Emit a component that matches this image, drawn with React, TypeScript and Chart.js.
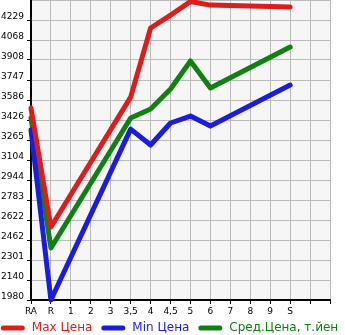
import React, { useEffect, useRef } from "react";
import { Chart, registerables } from "chart.js";

Chart.register(...registerables);

const categories = ["RA", "R", "1", "2", "3", "3,5", "4", "4,5", "5", "6", "7", "8", "9", "S", "", ""];
const maxPrice = [3522, 2566, null, null, null, 3610, 4165, 4269, 4378, 4349, null, null, null, 4333, null, null];
const minPrice = [3345, 1980, null, null, null, 3353, 3225, 3402, 3458, 3378, null, null, null, 3707, null, null];
const avgPrice = [3442, 2398, null, null, null, 3442, 3514, 3675, 3900, 3683, null, null, null, 4012, null, null];
const yTickLabels = ["1980", "2140", "2301", "2462", "2622", "2783", "2944", "3104", "3265", "3426", "3586", "3747", "3908", "4068", "4229"];
const yMin = 1980;
const yMax = 4390;

const seriesNames = ["Max Цена", "Min Цена", "Сред.Цена, т.йен"];
const seriesColors = ["#dd1c1c", "#1c1cdd", "#108010"];

const FONT = "'DejaVu Sans', sans-serif";

const bgPlugin = {
  id: "bgPlugin",
  beforeDraw(chart: any) {
    const { ctx, chartArea } = chart;
    ctx.save();
    ctx.fillStyle = "#f6f6f6";
    ctx.fillRect(chartArea.left, chartArea.top, chartArea.right - chartArea.left, chartArea.bottom - chartArea.top);
    ctx.restore();
  },
};

const legendPlugin = {
  id: "customLegend",
  afterDraw(chart: any) {
    const { ctx, width } = chart;
    ctx.save();
    ctx.font = "12px " + FONT;
    const lineLen = 24;
    const gapText = 7;
    const gapItem = 9;
    const widths = seriesNames.map((n) => ctx.measureText(n).width);
    let total = 0;
    widths.forEach((w, i) => {
      total += lineLen + gapText + w + (i < widths.length - 1 ? gapItem : 0);
    });
    let x = (width - total) / 2 - 3;
    const y = 328;
    seriesNames.forEach((name, i) => {
      ctx.strokeStyle = seriesColors[i];
      ctx.lineWidth = 5;
      ctx.lineCap = "round";
      ctx.beginPath();
      ctx.moveTo(x + 2.5, y);
      ctx.lineTo(x + lineLen - 2.5, y);
      ctx.stroke();
      ctx.fillStyle = seriesColors[i];
      ctx.textBaseline = "middle";
      ctx.textAlign = "left";
      ctx.fillText(name, x + lineLen + gapText, y);
      x += lineLen + gapText + widths[i] + gapItem;
    });
    ctx.restore();
  },
};

export default function App() {
  const ref = useRef<HTMLCanvasElement | null>(null);
  useEffect(() => {
    if (!ref.current) return;
    Chart.defaults.font.family = FONT;
    const mk = (label: string, data: any[], color: string) => ({
      label,
      data,
      borderColor: color,
      backgroundColor: color,
      borderWidth: 5,
      pointRadius: 0,
      spanGaps: true,
      tension: 0,
      borderJoinStyle: "round",
      borderCapStyle: "round",
      clip: 6,
    });
    const chart = new Chart(ref.current, {
      type: "line",
      data: {
        labels: categories,
        datasets: [
          mk(seriesNames[0], maxPrice, seriesColors[0]),
          mk(seriesNames[1], minPrice, seriesColors[1]),
          mk(seriesNames[2], avgPrice, seriesColors[2]),
        ],
      },
      options: {
        responsive: false,
        animation: false,
        devicePixelRatio: 1,
        layout: { padding: { left: 0, right: 15, top: 0, bottom: 0 } },
        plugins: { legend: { display: false }, tooltip: { enabled: false } },
        scales: {
          x: {
            offset: false,
            grid: { color: "#bbbbbb", lineWidth: 1, tickColor: "#000", tickLength: 4, drawTicks: true },
            border: { color: "#000", width: 2 },
            ticks: { color: "#000", font: { size: 9, family: FONT }, padding: 2, maxRotation: 0, autoSkip: false },
            afterFit(scale: any) {
              scale.height = 35;
              scale.paddingLeft = 0;
              scale.paddingRight = 0;
            },
          },
          y: {
            min: yMin,
            max: yMax,
            afterBuildTicks(scale: any) {
              const t = yTickLabels.map((v) => ({ value: Number(v) }));
              t.push({ value: yMax });
              scale.ticks = t;
            },
            grid: {
              color: "#bbbbbb",
              lineWidth: 1,
              tickLength: 4,
              tickColor: (c: any) => (c.tick && c.tick.value === yMax ? "rgba(0,0,0,0)" : "#000"),
            },
            border: { color: "#000", width: 2 },
            ticks: {
              color: "#000",
              font: { size: 9, family: FONT },
              padding: 3,
              labelOffset: -3,
              autoSkip: false,
              callback: (_v: any, i: number) => (i < yTickLabels.length ? yTickLabels[i] : ""),
            },
            afterFit(scale: any) {
              scale.width = 31;
              scale.paddingTop = 0;
              scale.paddingBottom = 0;
            },
          },
        },
      } as any,
      plugins: [bgPlugin, legendPlugin],
    });
    return () => chart.destroy();
  }, []);
  return (
    <div style={{ position: "absolute", left: 0, top: 0, width: 345, height: 335 }}>
      <canvas ref={ref} width={345} height={335} style={{ width: 345, height: 335 }} />
    </div>
  );
}
